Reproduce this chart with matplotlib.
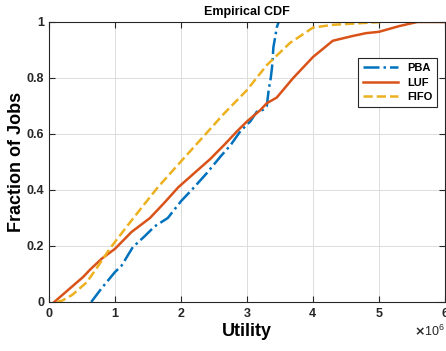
"""
Empirical CDF of job utility for three schedulers
"""

import numpy as np
import matplotlib
matplotlib.use("Agg")
import matplotlib.pyplot as plt
from matplotlib.ticker import ScalarFormatter, FormatStrFormatter

plt.rcParams['font.family'] = ['Liberation Sans', 'DejaVu Sans']
plt.rcParams['font.weight'] = 'bold'

# utility in units of 1e6
pba_x = [0.64, 0.8, 1.0, 1.1, 1.27, 1.45, 1.6, 1.8, 2.0, 2.2, 2.39, 2.6, 2.75, 2.9,
         3.05, 3.15, 3.24, 3.3, 3.33, 3.36, 3.38, 3.4, 3.43, 3.45, 3.48]
pba_y = [0, 0.05, 0.107, 0.13, 0.196, 0.235, 0.27, 0.30, 0.36, 0.41, 0.46, 0.52, 0.56, 0.61,
         0.645, 0.68, 0.686, 0.70, 0.76, 0.80, 0.84, 0.91, 0.95, 0.98, 1.0]

luf_x = [0.08, 0.3, 0.52, 0.62, 0.8, 1.0, 1.25, 1.53, 1.75, 1.96, 2.2, 2.44, 2.65, 2.85,
         3.0, 3.2, 3.3, 3.45, 3.7, 4.0, 4.3, 4.6, 4.8, 5.0, 5.3, 5.58, 6.0]
luf_y = [0, 0.045, 0.09, 0.115, 0.155, 0.19, 0.25, 0.30, 0.355, 0.41, 0.46, 0.51, 0.56, 0.61,
         0.645, 0.685, 0.71, 0.73, 0.80, 0.875, 0.933, 0.95, 0.96, 0.965, 0.985, 1.0, 1.0]

fifo_x = [0.12, 0.2, 0.35, 0.57, 0.72, 0.92, 1.18, 1.38, 1.65, 2.03, 2.47, 2.64, 3.0,
          3.3, 3.65, 4.0, 4.3, 4.8, 5.06]
fifo_y = [0, 0.005, 0.025, 0.07, 0.12, 0.19, 0.27, 0.33, 0.41, 0.51, 0.625, 0.67, 0.757,
          0.846, 0.925, 0.98, 0.99, 0.997, 1.0]

SCALE = 1e6

fig = plt.figure(figsize=(4.46, 3.51), dpi=100)
ax = fig.add_axes([49 / 446, 1 - 302 / 351, 396 / 446, 280 / 351])

ax.plot(np.array(pba_x) * SCALE, pba_y, color='#0072BD', linestyle='-.', linewidth=1.8, label='PBA')
ax.plot(np.array(luf_x) * SCALE, luf_y, color='#D95319', linestyle='-', linewidth=1.8, label='LUF')
ax.plot(np.array(fifo_x) * SCALE, fifo_y, color='#EDB120', linestyle='--', linewidth=1.8, label='FIFO')

ax.set_xlim(0, 6 * SCALE)
ax.set_ylim(0, 1)
ax.set_xticks(np.arange(0, 7) * SCALE)
ax.set_yticks(np.arange(0, 1.01, 0.2))

fmt = ScalarFormatter(useMathText=True)
fmt.set_powerlimits((0, 0))
ax.xaxis.set_major_formatter(fmt)
ax.yaxis.set_major_formatter(FormatStrFormatter('%g'))
ax.xaxis.get_offset_text().set_fontsize(9)
ax.xaxis.get_offset_text().set_fontweight('normal')

ax.grid(True, color='#dcdcdc', linewidth=0.7)
ax.set_axisbelow(True)
ax.tick_params(direction='in', top=True, right=True, length=4, width=0.8,
               labelsize=9, colors='#262626')
for s in ax.spines.values():
    s.set_color('#262626')
    s.set_linewidth(0.8)

ax.set_title('Empirical CDF', fontsize=9, fontweight='bold', pad=5)
ax.set_xlabel('Utility', fontsize=13, fontweight='bold', labelpad=2)
ax.set_ylabel('Fraction of Jobs', fontsize=13, fontweight='bold', labelpad=1)

leg = ax.legend(loc='upper right', bbox_to_anchor=(0.995, 0.89), fontsize=8,
                fancybox=False, framealpha=1, edgecolor='#262626',
                handlelength=3.2, borderpad=0.45, labelspacing=0.4)
leg.get_frame().set_linewidth(0.8)

fig.savefig('out.png', dpi=100)
